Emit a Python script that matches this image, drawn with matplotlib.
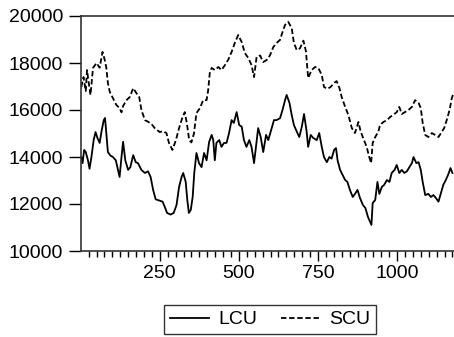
import matplotlib
matplotlib.use("Agg")
import matplotlib.pyplot as plt
from matplotlib.ticker import MultipleLocator

plt.rcParams['font.family'] = ['Liberation Sans', 'DejaVu Sans']

scu_obs = [2, 9, 16, 20, 25, 31, 39, 50, 60, 69, 76, 81, 86, 92, 102, 113, 123, 129, 134, 145,
           155, 166, 176, 185, 192, 203, 213, 224, 234, 250, 260, 271, 279, 290, 301, 311, 322,
           329, 336, 343, 350, 358, 366, 377, 387, 398, 403, 408, 414, 424, 435, 445, 456, 466,
           477, 487, 498, 509, 519, 530, 540, 548, 556, 567, 577, 588, 598, 609, 619, 630, 638,
           646, 656, 667, 674, 683, 693, 704, 712, 719, 730, 741, 751, 762, 769, 780, 790, 801,
           809, 818, 825, 836, 846, 857, 867, 878, 885, 893, 904, 912, 918, 923, 931, 941, 946,
           957, 968, 978, 988, 999, 1007, 1015, 1025, 1036, 1047, 1057, 1068, 1075, 1081, 1089,
           1099, 1110, 1120, 1131, 1142, 1149, 1157, 1166, 1173, 1178]
scu_val = [16980, 17400, 16800, 17700, 17200, 16640, 17790, 18000, 17800, 18470, 18130, 17800,
           17150, 16770, 16500, 16210, 16080, 15900, 16170, 16420, 16550, 16930, 16720, 16550,
           16000, 15570, 15500, 15400, 15230, 15060, 15100, 15020, 14600, 14300, 14720, 15230,
           15700, 15910, 15400, 14720, 14620, 15000, 15870, 16080, 16420, 16420, 16850, 17570,
           17790, 17700, 17830, 17700, 17910, 18130, 18470, 18850, 19190, 18890, 18420, 18210,
           17910, 17400, 18260, 18320, 18040, 18130, 18320, 18680, 18850, 18980, 19320, 19620,
           19750, 19490, 18850, 18550, 18620, 18950, 18500, 17360, 17700, 17830, 17790, 17490,
           16980, 16900, 16980, 17150, 17230, 16930, 16550, 16130, 15790, 15230, 15020, 15490,
           15080, 14810, 14430, 14000, 13740, 14600, 14850, 15080, 15360, 15490, 15570, 15700,
           15790, 15910, 16130, 15830, 15910, 16000, 16130, 16420, 16300, 16080, 15450, 14940,
           14850, 15020, 14940, 14850, 15080, 15230, 15570, 16000, 16500, 16700]

lcu_obs = [2, 6, 11, 16, 23, 28, 34, 41, 47, 53, 60, 66, 73, 77, 81, 86, 94, 102, 111, 118,
           123, 129, 134, 141, 150, 157, 166, 174, 181, 192, 203, 213, 221, 229, 237, 248, 259,
           266, 273, 284, 294, 303, 311, 319, 324, 332, 337, 342, 348, 354, 359, 366, 374, 382,
           390, 398, 406, 414, 419, 424, 429, 438, 445, 453, 461, 469, 477, 484, 493, 501, 509,
           516, 524, 533, 540, 548, 554, 561, 569, 577, 586, 593, 604, 611, 619, 630, 638, 646,
           651, 660, 667, 674, 683, 691, 699, 706, 714, 719, 727, 735, 746, 754, 762, 769, 778,
           786, 793, 801, 807, 812, 820, 828, 836, 843, 851, 860, 867, 875, 883, 892, 900, 908,
           915, 919, 923, 931, 938, 944, 952, 959, 968, 976, 983, 992, 999, 1007, 1015, 1023,
           1031, 1039, 1047, 1052, 1061, 1068, 1075, 1081, 1089, 1099, 1107, 1115, 1123, 1131,
           1138, 1146, 1154, 1161, 1169, 1175]
lcu_val = [14000, 13740, 14300, 14210, 13860, 13500, 14000, 14720, 15060, 14810, 14600, 15100,
           15570, 15660, 15020, 14210, 14060, 14000, 13860, 13450, 13150, 14000, 14650, 13860,
           13450, 13570, 14080, 13780, 13740, 13450, 13320, 13390, 13150, 12600, 12200, 12150,
           12100, 11870, 11620, 11550, 11620, 11960, 12730, 13150, 13320, 12940, 12170, 11620,
           11750, 12300, 13320, 14170, 13740, 13570, 14170, 13860, 14640, 14940, 14720, 13860,
           14600, 14720, 14430, 14600, 14600, 15020, 15570, 15450, 15910, 15360, 15290, 14720,
           14430, 14720, 14430, 13740, 14430, 15230, 14850, 14210, 14940, 14720, 15230, 15570,
           15570, 15650, 16000, 16420, 16640, 16300, 15790, 15360, 15080, 14850, 15290, 15830,
           15100, 14430, 14940, 14810, 14720, 15020, 14430, 14000, 13780, 14000, 13930, 14300,
           14380, 13860, 13450, 13230, 13020, 12940, 12600, 12300, 12430, 12600, 12250, 11960,
           11830, 11450, 11240, 11110, 12040, 12170, 12940, 12430, 12730, 12810, 13020, 12940,
           13320, 13450, 13660, 13320, 13450, 13320, 13390, 13570, 13740, 14000, 13740, 13780,
           13450, 12940, 12380, 12430, 12300, 12380, 12250, 12100, 12430, 12810, 13020, 13230,
           13530, 13320]

x_ticks = [250, 500, 750, 1000]
y_ticks = [10000, 12000, 14000, 16000, 18000, 20000]

fig = plt.figure(figsize=(4.54, 3.37), dpi=100)
ax = fig.add_axes([81 / 454, 1 - 251 / 337, 1 - 81 / 454, 235 / 337])

ax.plot(lcu_obs, lcu_val, color='black', lw=1.3, label='LCU')
ax.plot(scu_obs, scu_val, color='black', lw=1.3, linestyle=(0, (3.0, 1.5)), label='SCU')

ax.set_xlim(1, 1180)
ax.set_ylim(10000, 20000)
ax.set_xticks(x_ticks)
ax.set_yticks(y_ticks)
ax.xaxis.set_minor_locator(MultipleLocator(25))
ax.tick_params(axis='both', which='major', direction='out', length=7, width=1,
               labelsize=14, colors='black', pad=3)
ax.tick_params(axis='x', which='minor', direction='out', length=4, width=1)
ax.tick_params(axis='y', which='major', length=9, pad=4)

for s in ['left', 'bottom', 'top']:
    ax.spines[s].set_color('#333333')
    ax.spines[s].set_linewidth(1.2)
ax.spines['right'].set_visible(False)

leg = fig.legend(loc='center', bbox_to_anchor=(270 / 454, 1 - 319.5 / 337),
                 ncol=2, fontsize=14, frameon=True, fancybox=False,
                 edgecolor='black', handlelength=2.0, columnspacing=1.2,
                 borderpad=0.3, handletextpad=0.5, borderaxespad=0)
leg.get_frame().set_linewidth(1.0)

fig.savefig('out.png', dpi=100)
